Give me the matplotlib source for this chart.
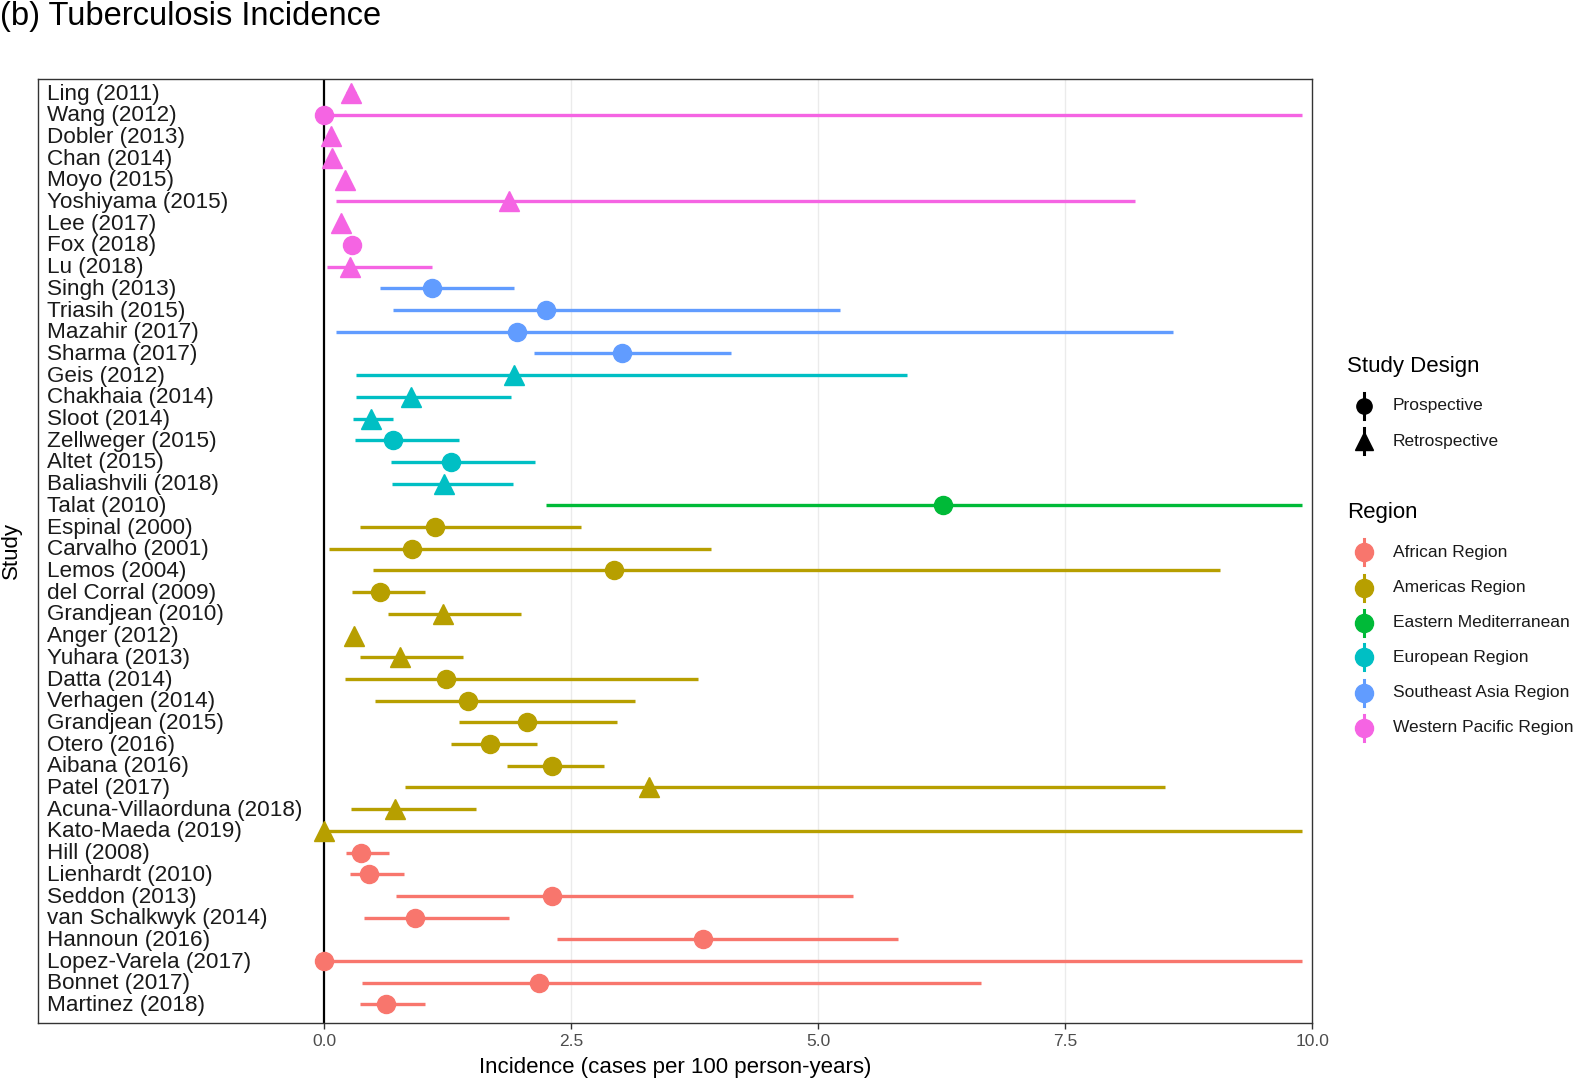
import matplotlib
matplotlib.use("Agg")
import matplotlib.pyplot as plt
import numpy as np

plt.rcParams['font.family'] = ['Liberation Sans', 'DejaVu Sans']

studies = ["Ling (2011)", "Wang (2012)", "Dobler (2013)", "Chan (2014)", "Moyo (2015)",
           "Yoshiyama (2015)", "Lee (2017)", "Fox (2018)", "Lu (2018)",
           "Singh (2013)", "Triasih (2015)", "Mazahir (2017)", "Sharma (2017)",
           "Geis (2012)", "Chakhaia (2014)", "Sloot (2014)", "Zellweger (2015)", "Altet (2015)",
           "Baliashvili (2018)", "Talat (2010)",
           "Espinal (2000)", "Carvalho (2001)", "Lemos (2004)", "del Corral (2009)",
           "Grandjean (2010)", "Anger (2012)", "Yuhara (2013)", "Datta (2014)", "Verhagen (2014)",
           "Grandjean (2015)", "Otero (2016)", "Aibana (2016)", "Patel (2017)",
           "Acuna-Villaorduna (2018)", "Kato-Maeda (2019)",
           "Hill (2008)", "Lienhardt (2010)", "Seddon (2013)", "van Schalkwyk (2014)",
           "Hannoun (2016)", "Lopez-Varela (2017)", "Bonnet (2017)", "Martinez (2018)"]

incidence = [0.27, 0.0, 0.07, 0.08, 0.21, 1.87, 0.17, 0.28, 0.26,
             1.09, 2.25, 1.95, 3.01,
             1.92, 0.88, 0.47, 0.70, 1.28, 1.21, 6.26,
             1.12, 0.89, 2.93, 0.57, 1.20, 0.30, 0.77, 1.23, 1.46, 2.05, 1.68, 2.31, 3.29, 0.72, 0.0,
             0.37, 0.45, 2.31, 0.92, 3.83, 0.0, 2.17, 0.63]
lower = [0.22, 0.0, 0.04, 0.05, 0.17, 0.12, 0.13, 0.24, 0.03,
         0.57, 0.70, 0.12, 2.12,
         0.32, 0.32, 0.29, 0.31, 0.68, 0.69, 2.25,
         0.36, 0.05, 0.50, 0.28, 0.65, 0.27, 0.36, 0.21, 0.52, 1.37, 1.28, 1.85, 0.82, 0.27, 0.0,
         0.22, 0.26, 0.73, 0.40, 2.36, 0.0, 0.38, 0.36]
upper = [0.32, 9.90, 0.10, 0.11, 0.25, 8.21, 0.21, 0.32, 1.09,
         1.92, 5.22, 8.59, 4.12,
         5.90, 1.89, 0.70, 1.37, 2.13, 1.91, 9.90,
         2.60, 3.92, 9.07, 1.02, 1.99, 0.33, 1.41, 3.78, 3.15, 2.96, 2.15, 2.83, 8.51, 1.54, 9.90,
         0.66, 0.81, 5.35, 1.87, 5.81, 9.90, 6.65, 1.02]
design = ["R", "P", "R", "R", "R", "R", "R", "P", "R",
          "P", "P", "P", "P",
          "R", "R", "R", "P", "P", "R", "P",
          "P", "P", "P", "P", "R", "R", "R", "P", "P", "P", "P", "P", "R", "R", "R",
          "P", "P", "P", "P", "P", "P", "P", "P"]
region = (["Western Pacific Region"] * 9 + ["Southeast Asia Region"] * 4 +
          ["European Region"] * 6 + ["Eastern Mediterranean"] * 1 +
          ["Americas Region"] * 15 + ["African Region"] * 8)

region_names = ["African Region", "Americas Region", "Eastern Mediterranean",
                "European Region", "Southeast Asia Region", "Western Pacific Region"]
region_colors = ["#F8766D", "#B79F00", "#00BA38", "#00BFC4", "#619CFF", "#F564E3"]
design_names = ["Prospective", "Retrospective"]
design_markers = {"P": "o", "R": "^"}
xticks = [0.0, 2.5, 5.0, 7.5, 10.0]
xtick_labels = ["0.0", "2.5", "5.0", "7.5", "10.0"]

W, H = 1583, 1079
fig = plt.figure(figsize=(W / 100, H / 100), dpi=100)
ax = fig.add_axes([0.0243, 0.0522, 0.829 - 0.0243, 0.927 - 0.0522])

n = len(studies)
cmap = dict(zip(region_names, region_colors))
ypos = np.arange(n)[::-1]

for xv in [2.5, 5.0, 7.5]:
    ax.axvline(xv, color="#EBEBEB", lw=1.0, zorder=0)
ax.axvline(0, color="black", lw=1.6, zorder=1)

for i in range(n):
    c = cmap[region[i]]
    ax.plot([lower[i], upper[i]], [ypos[i], ypos[i]], color=c, lw=2.4,
            solid_capstyle="butt", zorder=2)
    m = design_markers[design[i]]
    ms = 13 if m == "o" else 14.5
    ax.plot(incidence[i], ypos[i], marker=m, color=c, ms=ms, mec=c, ls="none", zorder=3)
    ax.text(-2.80, ypos[i] - 0.05, studies[i], ha="left", va="center", fontsize=16.2,
            color="#1a1a1a", zorder=4)

ax.set_xlim(-2.89, 10.0)
ax.set_ylim(-0.838, n - 1 + 0.654)
ax.set_yticks([])
ax.set_xticks(xticks)
ax.set_xticklabels(xtick_labels, fontsize=12.5, color="#4D4D4D")
ax.tick_params(axis="x", length=4, width=1, color="#333333", pad=4)
for s in ax.spines.values():
    s.set_color("#333333")
    s.set_linewidth(1.0)
ax.set_xlabel("Incidence (cases per 100 person-years)", fontsize=16, labelpad=6)
ax.set_ylabel("Study", fontsize=16, labelpad=12)

fig.text(0.0, 1 - 16 / H, "(b) Tuberculosis Incidence", fontsize=23.5, ha="left", va="center")

# legends drawn in a pixel-coordinate overlay
lg = fig.add_axes([0, 0, 1, 1], zorder=5)
lg.set_xlim(0, W)
lg.set_ylim(H, 0)
lg.axis("off")

kx, tx = 1364, 1393
lg.text(1347, 366.5, "Study Design", fontsize=16, ha="left", va="center")
for y, name, mk in zip([405.8, 441.2], design_names, ["o", "^"]):
    lg.plot([kx, kx], [y - 13, y + 13], color="black", lw=2.2)
    lg.plot(kx, y, marker=mk, color="black", ms=11 if mk == "o" else 13)
    lg.text(tx, y, name, fontsize=12.5, ha="left", va="center", color="#1a1a1a")

lg.text(1347, 512.9, "Region", fontsize=16, ha="left", va="center")
for y, name, c in zip([552.2, 587.6, 622.9, 657.2, 692.6, 727.9], region_names, region_colors):
    lg.plot([kx, kx], [y - 13, y + 13], color=c, lw=2.2)
    lg.plot(kx, y, marker="o", color=c, ms=13)
    lg.text(tx, y, name, fontsize=12.5, ha="left", va="center", color="#1a1a1a")

fig.savefig("out.png", dpi=100)
